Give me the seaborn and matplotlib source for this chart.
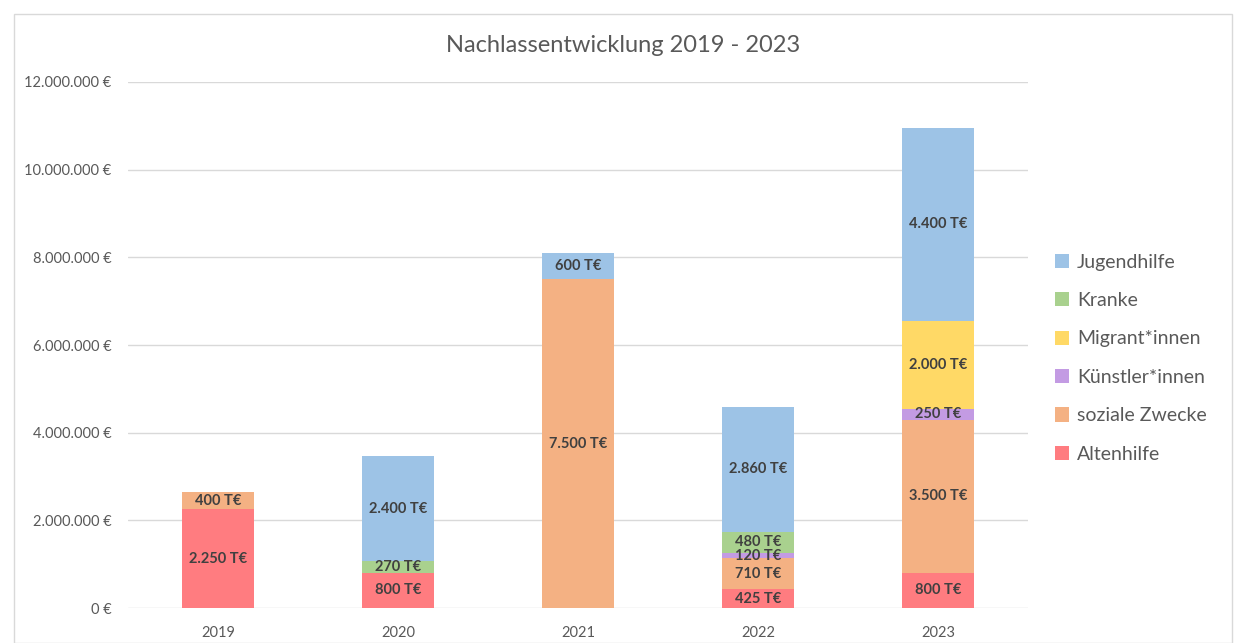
import matplotlib
matplotlib.use("Agg")
import matplotlib.pyplot as plt
import matplotlib.patches as mpatches
from matplotlib.ticker import FuncFormatter
import seaborn as sns
import pandas as pd

# Daten (Werte in T€)
years = [2019, 2020, 2021, 2022, 2023]
altenhilfe = [2250, 800, 0, 425, 800]
soziale_zwecke = [400, 0, 7500, 710, 3500]
kuenstler = [0, 0, 0, 120, 250]
migranten = [0, 0, 0, 0, 2000]
kranke = [0, 270, 0, 480, 0]
jugendhilfe = [0, 2400, 600, 2860, 4400]

categories = ["Jugendhilfe", "Kranke", "Migrant*innen", "Künstler*innen",
              "soziale Zwecke", "Altenhilfe"]
series = {
    "Altenhilfe": altenhilfe,
    "soziale Zwecke": soziale_zwecke,
    "Künstler*innen": kuenstler,
    "Migrant*innen": migranten,
    "Kranke": kranke,
    "Jugendhilfe": jugendhilfe,
}
colors = {
    "Jugendhilfe": "#9DC3E6",
    "Kranke": "#A9D18E",
    "Migrant*innen": "#FFD966",
    "Künstler*innen": "#C39BE3",
    "soziale Zwecke": "#F4B183",
    "Altenhilfe": "#FF7C80",
}

rows = []
for name, vals in series.items():
    for y, v in zip(years, vals):
        rows.append({"Jahr": y, "Zweck": name, "Betrag": v * 1000})
df = pd.DataFrame(rows)

sns.set_theme(style="white")
plt.rcParams["font.family"] = ["Lato", "DejaVu Sans"]

fig = plt.figure(figsize=(12.38, 6.43), dpi=100)
ax = fig.add_axes([0.1034, 0.0544, 0.727, 0.8181])

# Rahmen um das Diagramm
fig.patches.append(mpatches.Rectangle((0.011, 0.0), 0.984, 0.978, transform=fig.transFigure,
                                      fill=False, edgecolor="#D9D9D9", linewidth=1))

sns.histplot(data=df, x="Jahr", weights="Betrag", hue="Zweck", hue_order=categories,
             multiple="stack", discrete=True, shrink=0.4, palette=colors,
             alpha=1, linewidth=0, edgecolor="none", ax=ax, zorder=3)

for cont in ax.containers:
    vals = [b.get_height() for b in cont]
    labels = [f"{v/1000:,.0f} T€".replace(",", ".") if v > 0 else "" for v in vals]
    ax.bar_label(cont, labels=labels, label_type="center", fontsize=10.5,
                 fontweight="bold", color="#404040")

ax.set_ylim(0, 12_000_000)
ax.set_xlim(2018.5, 2023.5)
ax.set_yticks(range(0, 12_000_001, 2_000_000))
ax.yaxis.set_major_formatter(FuncFormatter(lambda v, p: f"{v:,.0f} €".replace(",", ".")))
ax.set_xticks(years)
ax.tick_params(axis="both", length=0, labelsize=10.5, labelcolor="#595959")
ax.tick_params(axis="y", pad=12)
ax.tick_params(axis="x", pad=13)
ax.set_xlabel("")
ax.set_ylabel("")
ax.grid(axis="y", color="#D9D9D9", linewidth=1, zorder=0)
ax.grid(axis="x", visible=False)
sns.despine(ax=ax, left=True, bottom=True)

# Titel mittig über dem gesamten Diagrammbereich
fig.text(0.5035, 0.93, "Nachlassentwicklung 2019 - 2023", fontsize=17, color="#595959",
         ha="center", va="center")

sns.move_legend(ax, "center left", bbox_to_anchor=(1.01, 0.475), frameon=False, title=None,
                fontsize=14, labelspacing=1.1, handlelength=0.75, handleheight=0.75,
                handletextpad=0.4)
for t in ax.get_legend().get_texts():
    t.set_color("#595959")

fig.savefig("out.png", dpi=100)
